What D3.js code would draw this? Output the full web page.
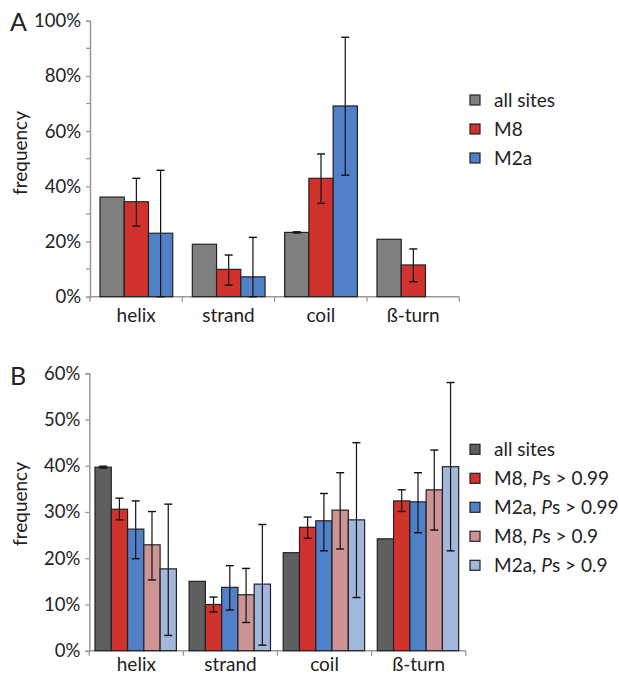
<!DOCTYPE html>
<html>
<head>
<meta charset="utf-8">
<script src="https://cdn.jsdelivr.net/npm/d3@7"></script>
<style>
  body { margin: 0; background: #fff; }
  text { font-family: Lato, "Open Sans", sans-serif; fill: #222; }
</style>
</head>
<body>
<svg width="619" height="675"></svg>
<script>
// shared categories
var categories = ["helix", "strand", "coil", "ß-turn"];

// panel A (values in %)
var seriesA = ["all sites", "M8", "M2a"];
var aAllSites = [36.1, 19.0, 23.3, 20.8];
var aAllSitesLo = [null, null, 23.1, null];
var aAllSitesHi = [null, null, 23.5, null];
var aM8 = [34.4, 9.9, 42.9, 11.5];
var aM8Lo = [25.6, 4.2, 33.8, 5.4];
var aM8Hi = [42.9, 15.1, 51.7, 17.3];
var aM2a = [23.0, 7.2, 69.1, null];
var aM2aLo = [0, 0, 44.0, null];
var aM2aHi = [45.8, 21.5, 94.0, null];
var ticksA = [0, 20, 40, 60, 80, 100];

// panel B (values in %)
var seriesB = ["all sites", "M8, Ps > 0.99", "M2a, Ps > 0.99", "M8, Ps > 0.9", "M2a, Ps > 0.9"];
var bAllSites = [39.7, 15.0, 21.2, 24.2];
var bAllSitesLo = [39.5, null, null, null];
var bAllSitesHi = [39.9, null, null, null];
var bM8_99 = [30.6, 10.0, 26.7, 32.4];
var bM8_99Lo = [28.3, 8.4, 24.3, 30.1];
var bM8_99Hi = [33.0, 11.6, 28.9, 34.8];
var bM2a_99 = [26.3, 13.7, 28.1, 32.2];
var bM2a_99Lo = [19.9, 8.8, 21.6, 25.5];
var bM2a_99Hi = [32.4, 18.4, 34.0, 38.5];
var bM8_9 = [22.9, 12.1, 30.4, 34.8];
var bM8_9Lo = [15.3, 6.1, 22.0, 26.1];
var bM8_9Hi = [30.1, 17.8, 38.5, 43.4];
var bM2a_9 = [17.7, 14.4, 28.3, 39.8];
var bM2a_9Lo = [3.3, 1.2, 11.5, 21.6];
var bM2a_9Hi = [31.7, 27.3, 45.0, 58.0];
var ticksB = [0, 10, 20, 30, 40, 50, 60];

var svg = d3.select("svg");

function rows(series, vals, los, his) {
    var out = [];
    categories.forEach(function (c, ci) {
        series.forEach(function (s, si) {
            if (vals[si][ci] == null) return;
            out.push({cat: c, s: s, v: vals[si][ci], lo: los[si][ci], hi: his[si][ci]});
        });
    });
    return out;
}

function panel(opt) {
    var g = svg.append("g");
    var y = d3.scaleLinear().domain([0, opt.max]).range([opt.y0, opt.y1]);
    var x0 = d3.scaleBand().domain(categories).range([opt.xl, opt.xr]);
    var x1 = d3.scaleBand().domain(opt.series)
        .range([opt.padL, x0.bandwidth() - opt.padR]);
    var color = d3.scaleOrdinal().domain(opt.series).range(opt.colors);

    // minor ticks
    g.selectAll(".minor").data(opt.minor).enter().append("line")
        .attr("x1", opt.xl - 4).attr("x2", opt.xl)
        .attr("y1", function (d) { return y(d); }).attr("y2", function (d) { return y(d); })
        .attr("stroke", "#999").attr("stroke-width", 1.3);

    // y axis
    var ya = g.append("g").attr("transform", "translate(" + opt.xl + ",0)")
        .call(d3.axisLeft(y).tickValues(opt.ticks).tickSize(4).tickPadding(5)
            .tickFormat(function (d) { return d + "%"; }));
    ya.select(".domain").attr("stroke", "#999").attr("stroke-width", 1.5);
    ya.selectAll(".tick line").attr("stroke", "#999").attr("stroke-width", 1.3);
    ya.selectAll(".tick text").attr("font-size", 18.5).attr("fill", "#222")
        .attr("font-family", "Lato, 'Open Sans', sans-serif");

    // x axis
    var xa = g.append("g").attr("transform", "translate(0," + opt.y0 + ")");
    xa.append("line").attr("x1", opt.xl).attr("x2", opt.xr)
        .attr("stroke", "#999").attr("stroke-width", 1.5);
    xa.selectAll(".xt").data(categories.map(function (c) { return x0(c); }).concat([opt.xr]))
        .enter().append("line")
        .attr("x1", function (d) { return d; }).attr("x2", function (d) { return d; })
        .attr("y1", 0).attr("y2", 5)
        .attr("stroke", "#999").attr("stroke-width", 1.3);
    xa.selectAll(".xl").data(categories).enter().append("text")
        .attr("x", function (d) { return x0(d) + x0.bandwidth() / 2; })
        .attr("y", opt.catDy)
        .attr("text-anchor", "middle").attr("font-size", 19)
        .text(function (d) { return d; });

    // bars
    var data = rows(opt.series, opt.vals, opt.los, opt.his);
    g.selectAll(".bar").data(data).enter().append("rect")
        .attr("x", function (d) { return x0(d.cat) + x1(d.s); })
        .attr("y", function (d) { return y(d.v); })
        .attr("width", x1.bandwidth())
        .attr("height", function (d) { return y(0) - y(d.v); })
        .attr("fill", function (d) { return color(d.s); })
        .attr("stroke", "#222").attr("stroke-width", 1.2);

    // error bars
    var eb = g.selectAll(".err").data(data.filter(function (d) { return d.lo != null; }))
        .enter().append("g")
        .attr("transform", function (d) {
            return "translate(" + (x0(d.cat) + x1(d.s) + x1.bandwidth() / 2) + ",0)";
        });
    eb.append("line").attr("y1", function (d) { return y(d.lo); })
        .attr("y2", function (d) { return y(d.hi); })
        .attr("stroke", "#111").attr("stroke-width", 1.2);
    eb.append("line").attr("x1", -4).attr("x2", 4)
        .attr("y1", function (d) { return y(d.hi); }).attr("y2", function (d) { return y(d.hi); })
        .attr("stroke", "#111").attr("stroke-width", 1.4);
    eb.append("line").attr("x1", -4).attr("x2", 4)
        .attr("y1", function (d) { return y(d.lo); }).attr("y2", function (d) { return y(d.lo); })
        .attr("stroke", "#111").attr("stroke-width", 1.4);

    // y label
    g.append("text")
        .attr("transform", "translate(" + opt.labX + "," + opt.labY + ") rotate(-90)")
        .attr("text-anchor", "middle").attr("dy", "0.35em").attr("font-size", 19)
        .text("frequency");

    // panel letter
    g.append("text").attr("x", 10).attr("y", opt.letterY)
        .attr("font-size", 25).text(opt.letter);

    // legend
    var legend = g.append("g").attr("transform", "translate(470," + opt.legY + ")");
    opt.series.forEach(function (s, i) {
        var row = legend.append("g").attr("transform", "translate(0," + (i * 29) + ")");
        row.append("rect").attr("x", 0).attr("y", -5).attr("width", 10).attr("height", 10)
            .attr("fill", color(s)).attr("stroke", "#222").attr("stroke-width", 1.2);
        var t = row.append("text").attr("x", 24).attr("dy", "0.35em").attr("font-size", 19);
        var m = s.match(/^(.*?)(Ps)(.*)$/);
        if (m) {
            t.append("tspan").text(m[1]);
            t.append("tspan").attr("font-style", "italic").text("P");
            t.append("tspan").text("s" + m[3]);
        } else {
            t.text(s);
        }
    });
}

panel({
    letter: "A", letterY: 31, max: 100, ticks: ticksA, minor: [10, 30, 50, 70, 90],
    y0: 296.7, y1: 20.7, xl: 90, xr: 459.3, padL: 10, padR: 9.6,
    series: seriesA, colors: ["#7f7f7f", "#d2322d", "#4f80c8"],
    vals: [aAllSites, aM8, aM2a], los: [aAllSitesLo, aM8Lo, aM2aLo], his: [aAllSitesHi, aM8Hi, aM2aHi],
    catDy: 25, labX: 20, labY: 153, legY: 100
});

panel({
    letter: "B", letterY: 385, max: 60, ticks: ticksB, minor: [],
    y0: 650.7, y1: 373.3, xl: 89.3, xr: 465.7, padL: 5.7, padR: 7,
    series: seriesB, colors: ["#5f5f5f", "#d2322d", "#4f80c8", "#cc9494", "#a2b7dc"],
    vals: [bAllSites, bM8_99, bM2a_99, bM8_9, bM2a_9],
    los: [bAllSitesLo, bM8_99Lo, bM2a_99Lo, bM8_9Lo, bM2a_9Lo],
    his: [bAllSitesHi, bM8_99Hi, bM2a_99Hi, bM8_9Hi, bM2a_9Hi],
    catDy: 20, labX: 20, labY: 504, legY: 449.3
});
</script>
</body>
</html>
